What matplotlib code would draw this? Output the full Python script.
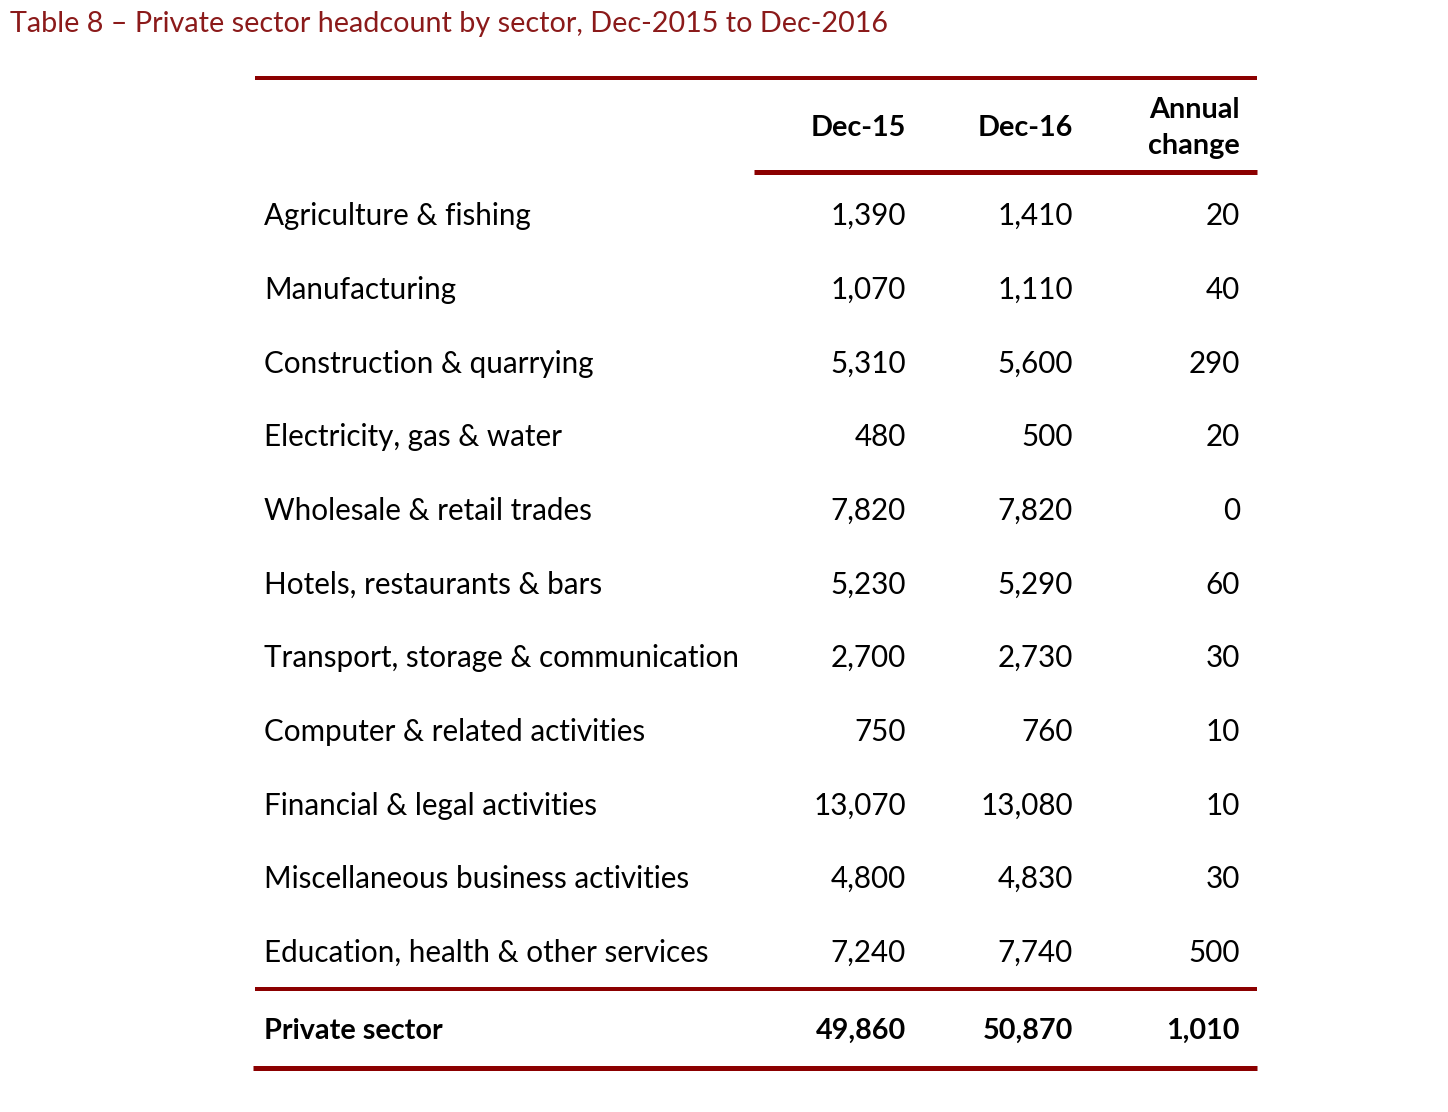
import matplotlib
matplotlib.use("Agg")
import matplotlib.pyplot as plt
from matplotlib.lines import Line2D

title = "Table 8 \u2013 Private sector headcount by sector, Dec-2015 to Dec-2016"
col_headers = ["Dec-15", "Dec-16", "Annual\nchange"]
sectors = [
    "Agriculture & fishing",
    "Manufacturing",
    "Construction & quarrying",
    "Electricity, gas & water",
    "Wholesale & retail trades",
    "Hotels, restaurants & bars",
    "Transport, storage & communication",
    "Computer & related activities",
    "Financial & legal activities",
    "Miscellaneous business activities",
    "Education, health & other services",
]
dec15 = [1390, 1070, 5310, 480, 7820, 5230, 2700, 750, 13070, 4800, 7240]
dec16 = [1410, 1110, 5600, 500, 7820, 5290, 2730, 760, 13080, 4830, 7740]
change = [20, 40, 290, 20, 0, 60, 30, 10, 10, 30, 500]
total_label = "Private sector"
total_vals = [49860, 50870, 1010]

W, H = 1448, 1112
fig = plt.figure(figsize=(W / 100, H / 100), dpi=100)
plt.rcParams['font.family'] = ['Lato', 'DejaVu Sans']

RED = "#8B0000"
FS = 21.3
HFS = 20.7

def fx(x):
    return x / W

def fy(y):
    return 1 - y / H

def hline(x0, x1, y, lw_px):
    fig.add_artist(Line2D([fx(x0), fx(x1)], [fy(y), fy(y)], transform=fig.transFigure,
                          color=RED, linewidth=lw_px * 0.72, solid_capstyle='butt'))

fig.text(fx(10), fy(24), title, color="#8B1A1A", fontsize=20.7, va='center', ha='left')

hline(255, 1257, 78, 4)
hline(754, 1257, 172, 5)
hline(255, 1257, 989, 4)
hline(253, 1257, 1068, 5)

col_right = [906, 1073, 1240]
for cx, hd in zip(col_right, col_headers):
    fig.text(fx(cx), fy(128), hd, fontsize=HFS, fontweight='bold', ha='right', va='center',
             linespacing=1.5, multialignment='right')

row_y = [214, 288, 362, 435, 509, 583, 656, 730, 804, 877, 951]
for i, name in enumerate(sectors):
    y = row_y[i] + 2
    fig.text(fx(264), fy(y), name, fontsize=FS, ha='left', va='center')
    for cx, v in zip(col_right, [dec15[i], dec16[i], change[i]]):
        fig.text(fx(cx), fy(y), f"{v:,}", fontsize=FS, ha='right', va='center')

fig.text(fx(264), fy(1031), total_label, fontsize=HFS, fontweight='bold', ha='left', va='center')
for cx, v in zip(col_right, total_vals):
    fig.text(fx(cx), fy(1031), f"{v:,}", fontsize=HFS, fontweight='bold', ha='right', va='center')

fig.savefig("out.png", dpi=100, facecolor='white')
